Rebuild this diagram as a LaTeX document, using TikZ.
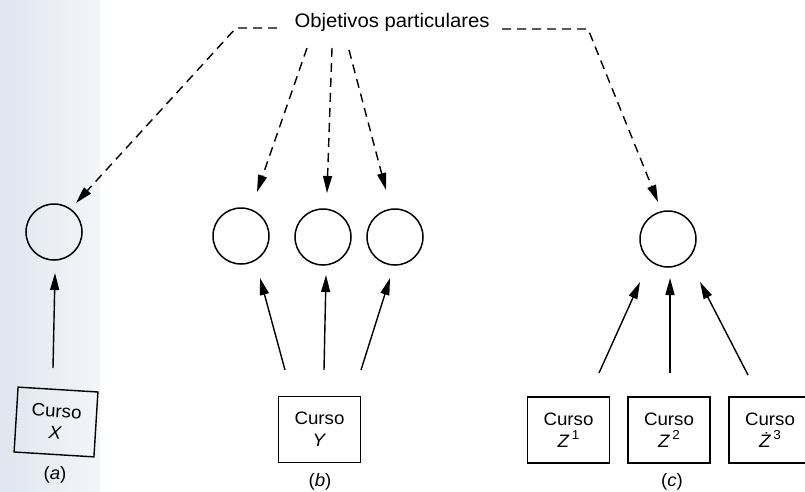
\documentclass[tikz,border=0pt]{standalone}
\usepackage{fontspec}
\setmainfont{Liberation Sans}[FakeStretch=1.04]
\usetikzlibrary{arrows.meta}
\definecolor{tintL}{RGB}{224,229,239}
\definecolor{tintR}{RGB}{243,245,249}
\begin{document}
\begin{tikzpicture}[x=1pt,y=-1pt,
  circ/.style={draw,circle,minimum size=56pt,inner sep=0pt,line width=1.5pt},
  box/.style={draw,line width=1.4pt,minimum width=82pt,minimum height=66pt,align=center,inner sep=0pt,font=\fontsize{18}{22}\selectfont},
  sarrow/.style={line width=1.4pt,-{Triangle[length=17pt,width=9pt]}},
  darrow/.style={line width=1.4pt,dash pattern=on 9pt off 6pt,-{Triangle[length=17pt,width=9pt]}},
  lab/.style={font=\fontsize{18}{20}\selectfont}]
\useasboundingbox (0,0) rectangle (805,492);
\clip (0,0) rectangle (805,492);
\shade[left color=tintL,right color=tintR] (0,0) rectangle (100,492);

% title
\node[anchor=base,font=\fontsize{19.5}{22}\selectfont,inner sep=0pt] (t) at (392,28) {Objetivos particulares};

% circles
\node[circ] (ca) at (54,232) {};
\node[circ] (cb1) at (241,236) {};
\node[circ] (cb2) at (323,237) {};
\node[circ] (cb3) at (395,237) {};
\node[circ] (cc) at (668,239) {};

% boxes
\node[box,minimum width=80pt,minimum height=65pt,rotate=-3.5] (bx) at (56,422) {Curso\\\textit{X}};
\node[box] (by) at (319.5,429.5) {Curso\\\textit{Y}};
\node[box] (bz1) at (568.5,430) {Curso\\\textit{Z}\kern2.5pt\raisebox{0.45em}{\fontsize{13}{14}\selectfont 1}};
\node[box] (bz2) at (669,430) {Curso\\\textit{Z}\kern2.5pt\raisebox{0.45em}{\fontsize{13}{14}\selectfont 2}};
\node[box] (bz3) at (770,430) {Curso\\\textit{Ż}\kern2.5pt\raisebox{0.45em}{\fontsize{13}{14}\selectfont 3}};

% labels
\node[lab] (la) at (55,475) {(\textit{a})};
\node[lab] (lb) at (320,482) {(\textit{b})};
\node[lab] (lc) at (672,482) {(\textit{c})};

% connector end points
\coordinate (tl1) at (277,28);
\coordinate (tl2) at (236,28);
\coordinate (tr1) at (502,29);
\coordinate (tr2) at (588,29);
\coordinate (ta) at (76,203);
\coordinate (sb1) at (307,48);  \coordinate (tb1) at (257,192);
\coordinate (sb2) at (332,48);  \coordinate (tb2) at (327,193);
\coordinate (sb3) at (349,50);  \coordinate (tb3) at (386,190);
\coordinate (tc) at (658,202);

\coordinate (xa) at (53,368);  \coordinate (ea) at (55,273);
\coordinate (yb1) at (285,370); \coordinate (eb1) at (260,278);
\coordinate (yb2) at (324,370); \coordinate (eb2) at (326,275);
\coordinate (yb3) at (361,370); \coordinate (eb3) at (390,278);
\coordinate (zc1) at (599,373); \coordinate (ec1) at (640,282);
\coordinate (zc2) at (670,373); \coordinate (ec2) at (670,278);
\coordinate (zc3) at (748,375); \coordinate (ec3) at (700,282);

% dashed arrows from the title
\draw[darrow] (tl1) -- (tl2) -- (ta);
\draw[darrow] (sb1) -- (tb1);
\draw[darrow] (sb2) -- (tb2);
\draw[darrow] (sb3) -- (tb3);
\draw[darrow] (tr1) -- (tr2) -- (tc);

% solid arrows from the courses
\draw[sarrow] (xa) -- (ea);
\draw[sarrow] (yb1) -- (eb1);
\draw[sarrow] (yb2) -- (eb2);
\draw[sarrow] (yb3) -- (eb3);
\draw[sarrow] (zc1) -- (ec1);
\draw[sarrow] (zc2) -- (ec2);
\draw[sarrow] (zc3) -- (ec3);
\end{tikzpicture}
\end{document}
